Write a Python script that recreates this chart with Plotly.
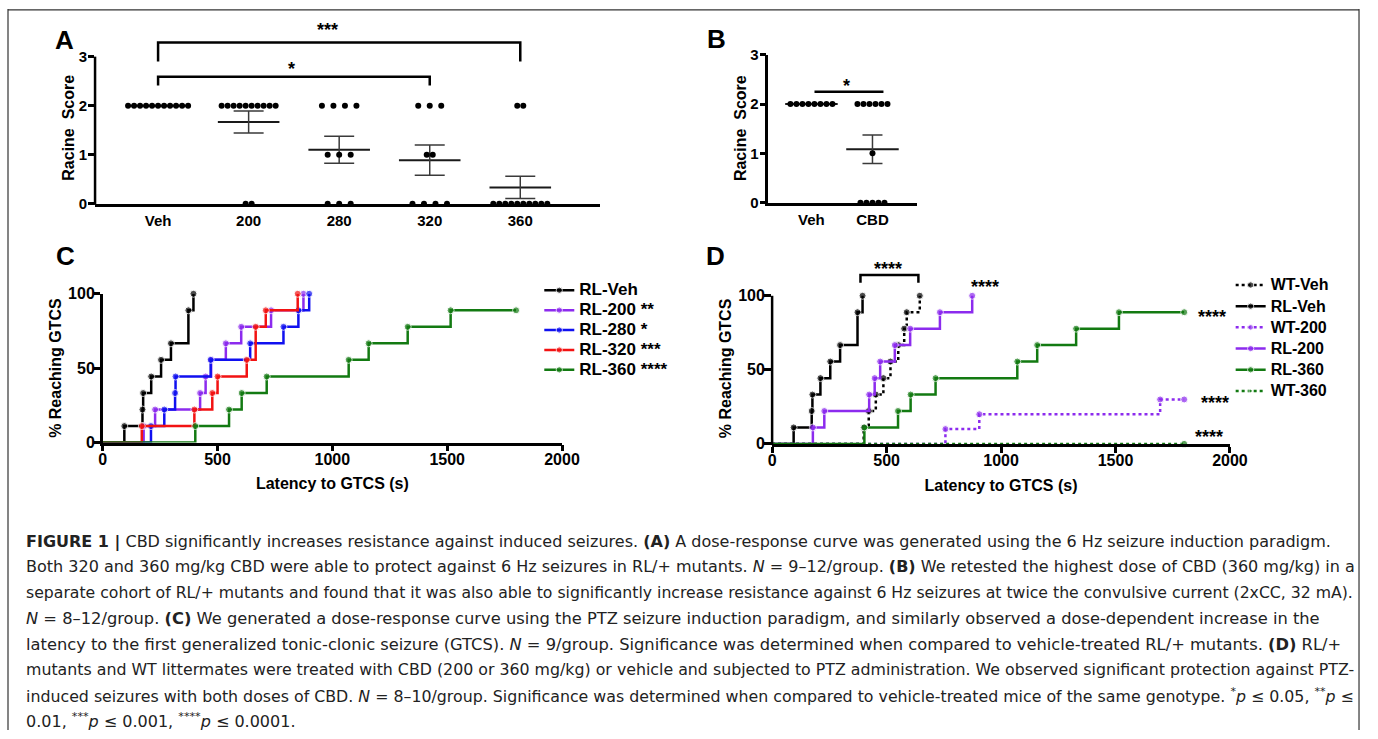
import numpy as np
import plotly.graph_objects as go

W, H = 1378, 739

# ---------------- data ----------------
# Panel A - Racine score after 6 Hz stimulation (one value per mouse)
a_labels = ["Veh", "200", "280", "320", "360"]
a_veh = [2, 2, 2, 2, 2, 2, 2, 2, 2, 2, 2]
a_200 = [2, 2, 2, 2, 2, 2, 2, 2, 2, 2, 0, 0]
a_280 = [2, 2, 2, 2, 1, 1, 1, 0, 0, 0]
a_320 = [2, 2, 2, 1, 1, 0, 0, 0, 0]
a_360 = [2, 2, 0, 0, 0, 0, 0, 0, 0, 0, 0, 0]

# Panel B - 2xCC, 360 mg/kg
b_labels = ["Veh", "CBD"]
b_veh = [2, 2, 2, 2, 2, 2, 2, 2]
b_cbd = [2, 2, 2, 2, 2, 2, 1, 0, 0, 0, 0, 0]

# Panels C/D - latency to GTCS (s) and cumulative % reaching GTCS
cutoff_s = 1800
rlveh_t = [94, 173, 176, 211, 254, 297, 373, 395]
rlveh_pct = [11.1, 22.2, 33.3, 44.4, 55.6, 66.7, 88.9, 100]
rl200_t = [178, 228, 424, 448, 472, 536, 603, 733, 874]
rl200_pct = [11.1, 22.2, 33.3, 44.4, 55.6, 66.7, 77.8, 88.9, 100]
rl280_t = [210, 268, 315, 317, 470, 642, 787, 852, 899]
rl280_pct = [11.1, 22.2, 33.3, 44.4, 55.6, 66.7, 77.8, 88.9, 100]
rl320_t = [170, 399, 477, 500, 627, 666, 710, 849]
rl320_pct = [11.1, 22.2, 33.3, 44.4, 55.6, 77.8, 88.9, 100]
rl360_t = [403, 550, 605, 714, 1071, 1158, 1328, 1515]
rl360_pct = [11.1, 22.2, 33.3, 44.4, 55.6, 66.7, 77.8, 88.9]
wtveh_t = [400, 422, 453, 486, 517, 551, 577, 588, 645]
wtveh_pct = [11.1, 22.2, 33.3, 44.4, 55.6, 66.7, 77.8, 88.9, 100]
wt200_t = [757, 905, 1695]
wt200_pct = [10, 20, 30]
wt360_t = []
wt360_pct = []

caption_lines = [
    "<b>FIGURE 1 |</b> CBD significantly increases resistance against induced seizures. <b>(A)</b> A dose-response curve was generated using the 6 Hz seizure induction paradigm.",
    "Both 320 and 360 mg/kg CBD were able to protect against 6 Hz seizures in RL/+ mutants. <i>N</i> = 9–12/group. <b>(B)</b> We retested the highest dose of CBD (360 mg/kg) in a",
    "separate cohort of RL/+ mutants and found that it was also able to significantly increase resistance against 6 Hz seizures at twice the convulsive current (2xCC, 32 mA).",
    "<i>N</i> = 8–12/group. <b>(C)</b> We generated a dose-response curve using the PTZ seizure induction paradigm, and similarly observed a dose-dependent increase in the",
    "latency to the first generalized tonic-clonic seizure (GTCS). <i>N</i> = 9/group. Significance was determined when compared to vehicle-treated RL/+ mutants. <b>(D)</b> RL/+",
    "mutants and WT littermates were treated with CBD (200 or 360 mg/kg) or vehicle and subjected to PTZ administration. We observed significant protection against PTZ-",
    "induced seizures with both doses of CBD. <i>N</i> = 8–10/group. Significance was determined when compared to vehicle-treated mice of the same genotype. <sup>*</sup><i>p</i> ≤ 0.05, <sup>**</sup><i>p</i> ≤",
    "0.01, <sup>***</sup><i>p</i> ≤ 0.001, <sup>****</sup><i>p</i> ≤ 0.0001.",
]

# ---------------- styling ----------------
FONT = "Liberation Sans"
CAP_FONT = "DejaVu Sans"
BLACK = "#000000"
PURPLE = "#8C2BEE"
BLUE = "#1010F0"
RED = "#F21212"
GREEN = "#137A12"
MS = 7

# page photograph calibration (target pixel -> layout pixel)
CAL_AX, CAL_SX = 4.0, 0.9835
CAL_AY, CAL_SY = 9.4, 0.975


def pxx(p):
    return ((p - CAL_AX) / CAL_SX) / W


def pxy(p):
    return 1 - ((p - CAL_AY) / CAL_SY) / H


fig = go.Figure()


def mean_sem(v):
    a = np.asarray(v, float)
    return a.mean(), a.std(ddof=1) / np.sqrt(len(a))


def swarm(vals, center, unit_px, tight_px=6.0, wide_px=11.5):
    xs, ys = [], []
    for level in sorted(set(vals), reverse=True):
        n = vals.count(level)
        gap = (wide_px if 3 <= n <= 4 else tight_px) / unit_px
        for k in range(n):
            xs.append(center + (k - (n - 1) / 2) * gap)
            ys.append(level)
    return xs, ys


def scatter_panel(groups, xa, ya, unit_px, half_w, cap_px, dot_size):
    for i, vals in enumerate(groups):
        m, s = mean_sem(vals)
        fig.add_trace(go.Scatter(x=[i - half_w, i + half_w], y=[m, m], mode="lines",
                                 line=dict(color="#1a1a1a", width=2), xaxis=xa, yaxis=ya,
                                 showlegend=False, hoverinfo="skip"))
        fig.add_trace(go.Scatter(x=[i], y=[m], mode="markers",
                                 marker=dict(size=1, color="rgba(0,0,0,0)"),
                                 error_y=dict(type="data", array=[s], color="#3a3a3a",
                                              thickness=1.5, width=cap_px),
                                 xaxis=xa, yaxis=ya, showlegend=False, hoverinfo="skip"))
        xs, ys = swarm(vals, i, unit_px)
        fig.add_trace(go.Scatter(x=xs, y=ys, mode="markers",
                                 marker=dict(size=dot_size, color="black"), cliponaxis=False,
                                 xaxis=xa, yaxis=ya, showlegend=False))


A_UNIT = 90.5
B_UNIT = 61.0
scatter_panel([a_veh, a_200, a_280, a_320, a_360], "x", "y", A_UNIT, 0.34, 15, 6)
scatter_panel([b_veh, b_cbd], "x2", "y2", B_UNIT, 0.43, 10, 6)


def km_trace(t, pct, name, color, dash, xa, ya, legend, fs):
    x = [0] + list(t)
    y = [0] + list(pct)
    size = [0] + [MS] * len(t)
    if not pct or pct[-1] < 100:
        x.append(cutoff_s)
        y.append(y[-1])
        size.append(MS)
    fig.add_trace(go.Scatter(x=x, y=y, mode="lines+markers",
                             name='<span style="font-size:%dpx">%s</span>' % (fs, name),
                             line=dict(shape="hv", color=color, width=2.5, dash=dash),
                             marker=dict(size=size, color=color), cliponaxis=False,
                             xaxis=xa, yaxis=ya, legend=legend))


km_trace(rlveh_t, rlveh_pct, "RL-Veh", BLACK, "solid", "x3", "y3", "legend", 17)
km_trace(rl200_t, rl200_pct, "RL-200 **", PURPLE, "solid", "x3", "y3", "legend", 17)
km_trace(rl280_t, rl280_pct, "RL-280 *", BLUE, "solid", "x3", "y3", "legend", 17)
km_trace(rl320_t, rl320_pct, "RL-320 ***", RED, "solid", "x3", "y3", "legend", 17)
km_trace(rl360_t, rl360_pct, "RL-360 ****", GREEN, "solid", "x3", "y3", "legend", 17)

km_trace(wtveh_t, wtveh_pct, "WT-Veh", BLACK, "dot", "x4", "y4", "legend2", 16)
km_trace(rlveh_t, rlveh_pct, "RL-Veh", BLACK, "solid", "x4", "y4", "legend2", 16)
km_trace(wt200_t, wt200_pct, "WT-200", PURPLE, "dot", "x4", "y4", "legend2", 16)
km_trace(rl200_t, rl200_pct, "RL-200", PURPLE, "solid", "x4", "y4", "legend2", 16)
km_trace(rl360_t, rl360_pct, "RL-360", GREEN, "solid", "x4", "y4", "legend2", 16)
km_trace(wt360_t, wt360_pct, "WT-360", GREEN, "dot", "x4", "y4", "legend2", 16)

tick_ab = dict(family=FONT, size=15, color="black", weight="bold")
tick_cd = dict(family=FONT, size=16, color="black", weight="bold")
titlefont = dict(family=FONT, size=16, color="black", weight="bold")
base = dict(showgrid=False, zeroline=False, linecolor="black", linewidth=2.5,
            tickcolor="black", tickwidth=2.5, fixedrange=True)

A_Y0, A_TOP = 204, 3.7
D_Y0, D_UNIT, D_TOP = 444, 1.48, 125

layout_axes = dict(
    xaxis=dict(base, domain=[pxx(95), pxx(600)], range=[(95 - 158) / A_UNIT, (600 - 158) / A_UNIT],
               tickvals=[0, 1, 2, 3, 4], ticktext=a_labels, ticks="", showline=True, anchor="y",
               ticklabelstandoff=2, tickfont=tick_ab),
    yaxis=dict(base, domain=[pxy(A_Y0), pxy(A_Y0 - A_TOP * 49)], range=[0, A_TOP],
               tickvals=[0, 1, 2, 3], ticks="outside", ticklen=6, showline=False, anchor="x",
               ticklabelstandoff=-2, tickfont=tick_ab),
    xaxis2=dict(base, domain=[pxx(768), pxx(917)], range=[(768 - 811) / B_UNIT, (917 - 811) / B_UNIT],
                tickvals=[0, 1], ticktext=b_labels, ticks="", showline=True, anchor="y2",
                ticklabelstandoff=2, tickfont=tick_ab),
    yaxis2=dict(base, domain=[pxy(203), pxy(55)], range=[0, 3], tickvals=[0, 1, 2, 3],
                ticks="outside", ticklen=6, showline=True, anchor="x2", tickfont=tick_ab,
                ticklabelstandoff=-2),
    xaxis3=dict(base, domain=[pxx(102.7), pxx(561.7)], range=[0, 2000],
                tickvals=[0, 500, 1000, 1500, 2000], ticks="outside", ticklen=6, showline=True,
                anchor="y3", tickfont=tick_cd, ticklabelstandoff=-6,
                title=dict(text="Latency to GTCS (s)", font=titlefont, standoff=12)),
    yaxis3=dict(base, domain=[pxy(442.7), pxy(294)], range=[0, 100], tickvals=[0, 50, 100],
                ticks="outside", ticklen=6, showline=True, anchor="x3", tickfont=tick_cd,
                ticklabelstandoff=-4),
    xaxis4=dict(base, domain=[pxx(771.7), pxx(1229.3)], range=[0, 2000],
                tickvals=[0, 500, 1000, 1500, 2000], ticks="outside", ticklen=6, showline=True,
                anchor="y4", tickfont=tick_cd, ticklabelstandoff=-6,
                title=dict(text="Latency to GTCS (s)", font=titlefont, standoff=12)),
    yaxis4=dict(base, domain=[pxy(D_Y0), pxy(D_Y0 - D_TOP * D_UNIT)], range=[0, D_TOP],
                tickvals=[0, 50, 100], ticks="outside", ticklen=7, showline=False, anchor="x4",
                tickfont=tick_cd, ticklabelstandoff=-4),
)

line_k = dict(color="black", width=2.5)
frame = dict(color="#333", width=1.2)
shapes = [
    # y-axis lines for panels A and D (axis range extended for brackets)
    dict(type="line", xref="paper", yref="paper", x0=pxx(95), x1=pxx(95),
         y0=pxy(A_Y0 + 1.2), y1=pxy(A_Y0 - 3 * 49), line=line_k),
    dict(type="line", xref="paper", yref="paper", x0=pxx(771.7), x1=pxx(771.7),
         y0=pxy(D_Y0 + 1.2), y1=pxy(D_Y0 - 100 * D_UNIT), line=line_k),
    # significance brackets
    dict(type="path", xref="x", yref="y", path="M 0,2.9 L 0,3.29 L 4,3.29 L 4,2.9", line=line_k),
    dict(type="path", xref="x", yref="y", path="M 0,2.41 L 0,2.59 L 3,2.59 L 3,2.41", line=line_k),
    dict(type="line", xref="x2", yref="y2", x0=0.05, x1=1.18, y0=2.25, y1=2.25, line=line_k),
    dict(type="path", xref="x4", yref="y4", path="M 386,108.8 L 386,114 L 639,114 L 639,108.8",
         line=line_k),
    # outer frame
    dict(type="line", xref="paper", yref="paper", x0=pxx(8), x1=1377 / W, y0=1 - 0.8 / H,
         y1=1 - 0.8 / H, line=frame),
    dict(type="line", xref="paper", yref="paper", x0=pxx(8), x1=pxx(8), y0=1, y1=0, line=frame),
    dict(type="line", xref="paper", yref="paper", x0=1377 / W, x1=1377 / W, y0=1, y1=0, line=frame),
]

star_font = dict(family=FONT, size=18, color="black", weight="bold")
ann = []
for txt, x, y in [("A", 64, 40), ("B", 716, 39), ("C", 65, 256), ("D", 715, 256)]:
    ann.append(dict(text=txt, xref="paper", yref="paper", x=pxx(x), y=pxy(y), showarrow=False,
                    xanchor="center", yanchor="middle",
                    font=dict(family=FONT, size=26, color="black", weight="bold")))
ann += [
    dict(text="***", xref="x", yref="y", x=1.87, y=3.55, showarrow=False, font=star_font),
    dict(text="*", xref="x", yref="y", x=1.47, y=2.74, showarrow=False, font=star_font),
    dict(text="*", xref="x2", yref="y2", x=0.57, y=2.36, showarrow=False, font=star_font),
    dict(text="****", xref="x4", yref="y4", x=508, y=118, showarrow=False, font=star_font),
    dict(text="****", xref="x4", yref="y4", x=862, y=106, xanchor="left", showarrow=False, font=star_font),
    dict(text="****", xref="x4", yref="y4", x=1852, y=86, xanchor="left", showarrow=False, font=star_font),
    dict(text="****", xref="x4", yref="y4", x=1863, y=27.5, xanchor="left", showarrow=False, font=star_font),
    dict(text="****", xref="x4", yref="y4", x=1837, y=4.5, xanchor="left", showarrow=False, font=star_font),
]
# y-axis titles
for txt, x, y in [("Racine  Score", 69, 128), ("Racine  Score", 740, 128),
                  ("% Reaching GTCS", 56, 368), ("% Reaching GTCS", 725, 368)]:
    ann.append(dict(text=txt, xref="paper", yref="paper", x=pxx(x), y=pxy(y), textangle=-90,
                    xanchor="center", yanchor="middle", showarrow=False, font=titlefont))

# caption (justified in the original: per-line size keeps every line near full width)
cap_y = [542, 567, 593, 618, 644, 669, 695, 720]
cap_size = [16.0, 16.0, 15.7, 16.3, 16.3, 15.8, 15.8, 16.0]
for txt, y, fs in zip(caption_lines, cap_y, cap_size):
    ann.append(dict(text=txt, xref="paper", yref="paper", x=pxx(24), y=pxy(y), xanchor="left",
                    yanchor="middle", showarrow=False, align="left",
                    font=dict(family=CAP_FONT, size=fs, color="#222222")))

leg_common = dict(xanchor="left", yanchor="top", bgcolor="rgba(0,0,0,0)", itemwidth=30,
                  tracegroupgap=0, itemclick=False, itemdoubleclick=False)
fig.update_layout(
    width=W, height=H, margin=dict(l=0, r=0, t=0, b=0),
    paper_bgcolor="white", plot_bgcolor="rgba(0,0,0,0)",
    showlegend=True, hovermode=False,
    legend=dict(leg_common, x=pxx(539), y=pxy(275.5),
                font=dict(family=FONT, size=13, color="black", weight="bold")),
    legend2=dict(leg_common, x=pxx(1230), y=pxy(269.6),
                 font=dict(family=FONT, size=14, color="black", weight="bold")),
    shapes=shapes, annotations=ann,
    **layout_axes,
)

fig.write_html("out.html", config={"displayModeBar": False},
               post_script="document.body.style.margin='0';document.body.style.padding='0';"
                           "document.body.style.overflow='hidden';")
